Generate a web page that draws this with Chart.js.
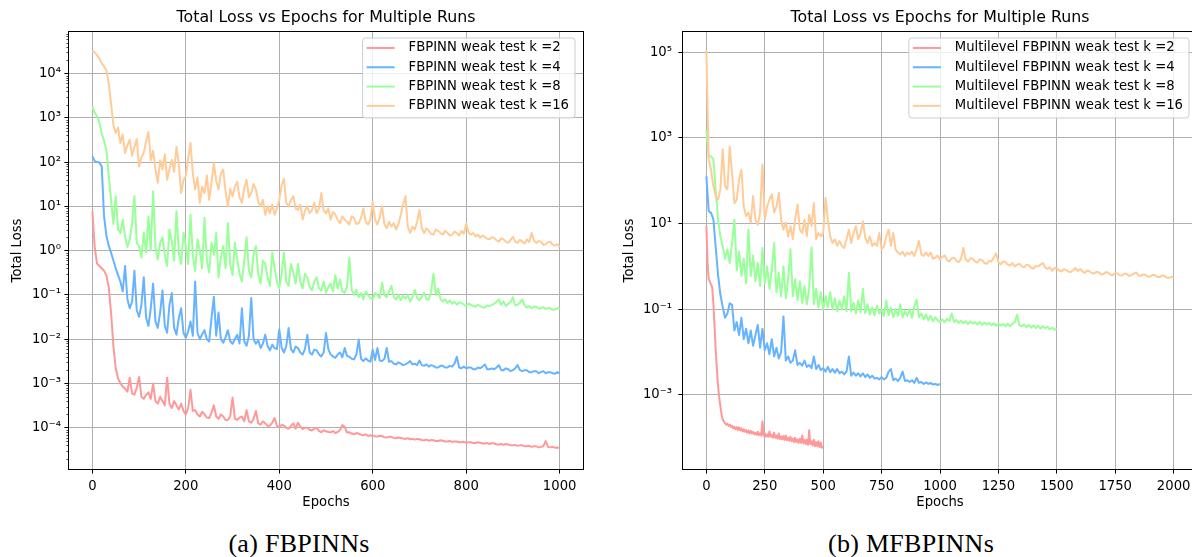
<!DOCTYPE html>
<html>
<head>
<meta charset="utf-8">
<script src="https://cdn.jsdelivr.net/npm/chart.js@4.4.0/dist/chart.umd.min.js"></script>
<style>
html,body{margin:0;padding:0;background:#fff;overflow:hidden;width:1192px;height:557px}
.wrap{position:absolute;top:0;width:600px;height:520px}
#wa{left:0}
#wb{left:600px}
.cap{position:absolute;top:529px;font-family:"Liberation Serif",serif;font-size:26px;color:#000;white-space:nowrap;transform:translateX(-50%);letter-spacing:0.3px}
</style>
</head>
<body>
<div class="wrap" id="wa"><canvas id="ca" width="600" height="520"></canvas></div>
<div class="wrap" id="wb"><canvas id="cb" width="600" height="520"></canvas></div>
<div class="cap" style="left:299px">(a) FBPINNs</div>
<div class="cap" style="left:911px">(b) MFBPINNs</div>
<script>
// k values and colours (same for both panels)
const kValues=[2,4,8,16];
const colors=['#ff9999','#66b3ff','#99ff99','#ffcc99'];

// (a) FBPINN runs, one value every 5 epochs, 0..1000
const stepA=5;
const lossA2=[7.8,1.2,0.51,0.45,0.4,0.35,0.28,0.15,0.04,0.007,0.0022,0.0013,0.001,8.5e-4,7.6e-4,6.5e-4,1.35e-3,6e-4,5.6e-4,8e-4,
 1.4e-3,5e-4,4.5e-4,5.5e-4,6.3e-4,4.5e-4,1.0e-3,4e-4,3.5e-4,5e-4,4.0e-4,3.2e-4,1.35e-3,3.5e-4,2.8e-4,4e-4,3.2e-4,2.6e-4,3.5e-4,2.4e-4,
 2.0e-4,2.8e-4,7.2e-4,2.4e-4,2.5e-4,2.0e-4,1.8e-4,2.3e-4,2.0e-4,1.7e-4,1.66e-4,2.2e-4,3.2e-4,1.8e-4,1.6e-4,2.0e-4,1.8e-4,1.5e-4,1.5e-4,1.8e-4,
 4.8e-4,1.6e-4,1.5e-4,1.7e-4,1.8e-4,1.4e-4,2.5e-4,1.4e-4,1.3e-4,1.6e-4,2.4e-4,1.25e-4,1.17e-4,1.4e-4,1.26e-4,1.1e-4,1.12e-4,1.3e-4,1.66e-4,1.1e-4,
 1.05e-4,1.15e-4,1.12e-4,1.0e-4,9.5e-5,1.1e-4,1.26e-4,9.5e-5,1.3e-4,1.05e-4,9.3e-5,1.0e-4,1.0e-4,9e-5,8.7e-5,9.5e-5,1.0e-4,8.5e-5,7.9e-5,8.8e-5,
 8.3e-5,8.0e-5,7.9e-5,8.4e-5,7.6e-5,8e-5,8.9e-5,1.15e-4,1.05e-4,7.8e-5,7.9e-5,7.4e-5,7.1e-5,7.6e-5,7.4e-5,6.9e-5,6.8e-5,7.1e-5,6.5e-5,6.8e-5,
 6.6e-5,6.4e-5,6.3e-5,6.6e-5,6.5e-5,6.1e-5,6.0e-5,6.3e-5,6.2e-5,5.9e-5,5.8e-5,6.0e-5,5.9e-5,5.7e-5,5.6e-5,5.8e-5,5.5e-5,5.6e-5,5.4e-5,5.6e-5,
 5.5e-5,5.3e-5,5.2e-5,5.4e-5,5.1e-5,5.3e-5,5.2e-5,5.0e-5,5.0e-5,5.2e-5,5.1e-5,4.9e-5,4.9e-5,5.0e-5,4.8e-5,4.9e-5,4.9e-5,4.7e-5,4.7e-5,4.8e-5,
 4.6e-5,4.7e-5,4.7e-5,4.5e-5,4.5e-5,4.7e-5,4.6e-5,4.4e-5,4.4e-5,4.5e-5,4.3e-5,4.5e-5,4.4e-5,4.2e-5,4.2e-5,4.3e-5,4.1e-5,4.3e-5,4.2e-5,4.0e-5,
 4.0e-5,4.1e-5,3.9e-5,4.0e-5,4.0e-5,3.8e-5,3.8e-5,3.9e-5,3.7e-5,3.8e-5,3.8e-5,3.6e-5,3.7e-5,3.8e-5,5.0e-5,3.7e-5,3.6e-5,3.7e-5,3.55e-5,3.6e-5,
 3.55e-5];
const lossA4=[135,105,100,98,80,6,2.2,1.3,0.9,0.6,0.4,0.28,0.2,0.12,0.45,0.08,0.05,0.07,0.35,0.045,
 0.032,0.06,0.25,0.03,0.02,0.05,0.18,0.025,0.018,0.04,0.126,0.02,0.014,0.06,0.11,0.018,0.0126,0.03,0.05,0.014,
 0.0107,0.015,0.025,0.012,0.2,0.014,0.01,0.013,0.016,0.01,0.0089,0.03,0.091,0.012,0.04,0.01,0.0083,0.011,0.016,0.009,
 0.0079,0.01,0.0126,0.008,0.05,0.009,0.0071,0.012,0.085,0.01,0.0079,0.0095,0.0063,0.008,0.0126,0.007,0.0056,0.0075,0.0063,0.006,
 0.0166,0.0065,0.005,0.007,0.0178,0.006,0.005,0.0068,0.0063,0.005,0.0045,0.006,0.0126,0.005,0.0045,0.0058,0.0056,0.0045,0.0041,0.005,
 0.0138,0.006,0.0045,0.0041,0.0038,0.0045,0.005,0.0039,0.0063,0.0042,0.004,0.0036,0.0035,0.0045,0.0098,0.0036,0.0032,0.0037,0.0033,0.0031,
 0.0058,0.0034,0.0063,0.0033,0.0032,0.0036,0.0063,0.0031,0.0032,0.0028,0.0027,0.003,0.0028,0.0026,0.0027,0.0029,0.0032,0.0027,0.0028,0.0026,
 0.0033,0.0026,0.0025,0.0027,0.0024,0.0026,0.0025,0.0023,0.0023,0.0025,0.0025,0.0023,0.0023,0.0025,0.0024,0.0028,0.004,0.0023,0.0022,0.0024,
 0.0022,0.0023,0.0023,0.0021,0.0021,0.0023,0.0022,0.0024,0.0027,0.0021,0.0021,0.0022,0.0021,0.0023,0.0026,0.002,0.002,0.0022,0.0021,0.0019,
 0.002,0.0022,0.0026,0.002,0.0019,0.002,0.002,0.0018,0.0018,0.0019,0.0019,0.0017,0.0018,0.0019,0.0017,0.0018,0.0018,0.0017,0.00166,0.0018,
 0.0017];
const lossA8=[1800,1300,1070,800,450,300,190,50,14,4,17,3,2.5,5,2.1,1.2,1.8,4,17,1.5,
 1.26,0.7,2.5,0.9,5.9,1.0,22,1.2,0.63,1.5,2.0,0.8,0.45,3,1.6,0.6,7.8,0.9,0.5,2.5,
 1.26,0.5,6.5,0.8,0.35,1.8,1.0,0.4,5.5,0.6,0.32,1.5,0.8,2.5,0.25,0.7,1.26,0.4,4.2,0.5,
 0.28,1.5,0.63,0.3,0.2,0.6,2.0,0.35,0.25,0.8,1.26,0.3,0.18,0.6,0.5,0.25,0.16,0.9,0.4,0.2,
 0.14,0.3,0.9,0.2,0.16,0.5,0.32,0.18,0.5,0.2,0.14,0.3,0.25,0.15,0.126,0.2,0.25,0.14,0.126,0.2,
 0.112,0.15,0.18,0.12,0.28,0.14,0.22,0.12,0.112,0.15,0.7,0.13,0.1,0.13,0.089,0.11,0.079,0.12,0.1,0.085,
 0.079,0.11,0.1,0.085,0.19,0.1,0.089,0.12,0.16,0.09,0.079,0.1,0.076,0.095,0.083,0.1,0.071,0.09,0.13,0.085,
 0.076,0.09,0.112,0.08,0.079,0.12,0.3,0.1,0.14,0.08,0.071,0.08,0.066,0.075,0.063,0.07,0.06,0.068,0.066,0.06,
 0.056,0.064,0.06,0.056,0.054,0.06,0.056,0.052,0.052,0.058,0.056,0.06,0.063,0.07,0.079,0.06,0.071,0.056,0.063,0.07,
 0.089,0.058,0.06,0.068,0.079,0.058,0.052,0.056,0.05,0.055,0.054,0.049,0.05,0.053,0.048,0.051,0.05,0.046,0.047,0.05,
 0.048];
const lossA16=[33000,30000,26000,22000,17000,14500,11700,6000,2100,700,450,600,270,420,160,240,320,140,220,330,
 80,130,160,300,480,110,180,70,34,110,68,150,40,70,112,60,220,90,20,40,
 48,120,270,55,24,45,12,28,20,50,14,35,95,38,24,55,68,22,10,25,
 17,28,36,16,12,26,40,16,20,32,24,13,10,14,6.5,10,7,11,6.5,9,
 14,30,42,12,10,14,17,9,8.3,11,5,8,10,7,8.3,12,7,9,20,8,
 7,9,5,7.5,6.5,5,4.2,6,5,4.5,3.9,6,5.5,4,4.2,5.5,9,4.5,3.9,5,
 12.6,5,3.9,5.5,10,4,3.2,4.5,3.5,4.2,3.0,4,6.5,11,17,3.5,2.5,3.5,3.0,4.5,
 8.3,3.2,2.5,3.2,2.8,2.4,2.3,3,2.8,2.5,2.3,2.8,2.5,2.2,2.3,2.7,2.5,2.2,2.8,2.4,
 4.1,2.6,2.3,2.5,2.1,2.3,1.95,2.2,2.05,1.85,1.8,2.0,1.95,1.7,1.6,1.9,1.8,1.6,1.5,1.75,
 2.05,1.6,1.5,1.75,1.6,1.45,1.8,1.55,2.5,1.7,1.5,1.65,1.6,1.35,1.4,1.55,1.6,1.35,1.3,1.4,
 1.2];

// (b) Multilevel FBPINN runs, each run sampled with its own epoch step
const stepB=[5,10,10,10];
const lossB2=[8.7,1.26,0.5,0.44,0.38,0.32,0.14,0.04,0.0112,0.004,
 0.0016,8.9e-4,5.4e-4,3.5e-4,2.7e-4,2.4e-4,2.2e-4,2.0e-4,2.1e-4,1.9e-4,
 2.0e-4,1.78e-4,1.9e-4,1.66e-4,1.8e-4,1.58e-4,1.78e-4,1.5e-4,1.74e-4,1.48e-4,
 1.66e-4,1.4e-4,1.58e-4,1.38e-4,1.5e-4,1.3e-4,1.48e-4,1.26e-4,1.45e-4,1.26e-4,
 1.38e-4,1.2e-4,1.3e-4,1.17e-4,1.38e-4,1.15e-4,1.26e-4,1.12e-4,2.4e-4,1.12e-4,
 1.26e-4,1.07e-4,1.2e-4,1.05e-4,1.4e-4,1.05e-4,1.17e-4,1.0e-4,1.3e-4,1.0e-4,
 1.12e-4,9.5e-5,1.26e-4,9.3e-5,1.07e-4,9.1e-5,1.1e-4,8.9e-5,1.12e-4,8.7e-5,
 1.0e-4,8.5e-5,1.05e-4,8.3e-5,9.5e-5,7.9e-5,1.0e-4,7.9e-5,9.1e-5,7.6e-5,
 9.5e-5,7.6e-5,1.12e-4,7.4e-5,8.9e-5,7.1e-5,8.9e-5,6.8e-5,1.5e-4,7.1e-5,
 8.3e-5,6.6e-5,8.9e-5,6.3e-5,7.9e-5,6.3e-5,8.3e-5,6.0e-5,7.6e-5,5.8e-5,
 6.3e-5];
const lossB4=[126,19.5,17.8,12.6,2.8,0.63,0.22,0.112,0.063,0.079,
 0.138,0.126,0.032,0.05,0.025,0.063,0.02,0.035,0.016,0.032,
 0.014,0.025,0.043,0.0126,0.035,0.011,0.016,0.0089,0.02,0.0079,
 0.0126,0.0071,0.01,0.068,0.0063,0.0079,0.0056,0.0063,0.011,0.005,
 0.0056,0.0048,0.0063,0.0045,0.005,0.0042,0.0079,0.004,0.005,0.0038,
 0.0042,0.0035,0.0045,0.0034,0.004,0.0033,0.004,0.0032,0.0035,0.003,
 0.0035,0.0079,0.0028,0.0033,0.0028,0.0032,0.0027,0.0032,0.0026,0.003,
 0.0025,0.0028,0.0024,0.0025,0.0023,0.0026,0.0023,0.0025,0.0035,0.004,
 0.0022,0.0024,0.0021,0.0025,0.0035,0.0021,0.0022,0.002,0.0022,0.0019,
 0.0025,0.0019,0.002,0.0018,0.00195,0.0018,0.0019,0.00174,0.0018,0.0017,
 0.0018];
const lossB8=[1550,370,370,320,60,12.3,5,3,1.5,2.5,1.2,3.5,12.3,0.8,2.2,0.6,1.5,0.4,7.2,0.6,
 1.8,0.45,1.2,0.35,2.7,0.4,1.0,0.3,0.8,3.5,0.25,0.7,0.2,1.0,0.18,0.5,2.5,0.2,0.5,0.16,
 0.45,0.14,0.35,0.13,0.3,2.8,0.13,0.3,0.11,0.25,0.1,0.2,0.11,0.25,0.1,0.18,0.09,0.16,0.1,0.2,
 0.09,0.7,0.09,0.14,0.08,0.16,0.085,0.3,0.08,0.13,0.075,0.11,0.072,0.12,0.08,0.1,0.07,0.16,0.072,0.11,
 0.065,0.1,0.07,0.13,0.065,0.09,0.07,0.1,0.063,0.12,0.166,0.065,0.08,0.058,0.075,0.055,0.07,0.052,0.065,0.055,
 0.05,0.058,0.05,0.06,0.053,0.079,0.05,0.056,0.048,0.054,0.047,0.053,0.045,0.052,0.046,0.05,0.044,0.051,0.043,0.049,
 0.044,0.048,0.042,0.047,0.041,0.046,0.042,0.045,0.04,0.046,0.04,0.045,0.05,0.074,0.042,0.04,0.044,0.038,0.043,0.037,
 0.042,0.036,0.041,0.035,0.04,0.036,0.039,0.034,0.037,0.033,
 0.035];
const lossB16=[110000,320,180,75,44,36,63,540,74,63,630,150,30,36,107,180,25,15,18,10.5,
 44,12.3,9.3,18,240,12.3,25,36,48,18,25,52,12.3,7.2,10.5,5,8.7,4.3,12.3,28,
 7.2,6,12.3,5,16,8.7,30,4.3,6,5,6,40,12.3,5,3.5,4.3,3,3.9,3,2.7,
 4.3,7.2,3.5,6,8.7,4.3,6,11.2,4.7,3.5,5,3,3.5,3,6,2.5,3,5,7.2,3,
 6,2.5,2.1,1.9,2.2,1.75,2.1,1.9,2.2,1.75,2.5,3.9,1.9,1.75,2.1,1.75,2.1,1.5,1.6,1.8,
 1.45,1.65,1.8,1.4,1.3,1.55,1.6,1.35,1.26,1.5,2.7,1.45,1.3,1.55,1.5,1.3,1.23,1.45,1.4,1.2,
 1.15,1.35,1.3,1.6,2.0,1.25,1.12,1.3,1.26,1.1,1.05,1.2,1.0,1.1,1.15,1.0,0.95,1.1,1.07,0.93,
 0.89,1.02,1.0,1.1,1.2,0.95,0.87,0.95,0.79,0.92,0.89,0.8,0.76,0.86,0.83,0.75,0.74,0.82,0.91,0.78,
 0.87,0.76,0.71,0.8,0.76,0.7,0.68,0.75,0.72,0.65,0.66,0.74,0.71,0.64,0.63,0.7,0.68,0.61,0.62,0.68,
 0.66,0.6,0.63,0.68,0.72,0.62,0.6,0.65,0.63,0.57,0.58,0.64,0.62,0.57,0.56,0.61,0.6,0.55,0.54,0.57,
 0.55];

const ticksAx=[0,200,400,600,800,1000];
const ticksBx=[0,250,500,750,1000,1250,1500,1750,2000];
const ticksAy=[1e-4,1e-3,1e-2,1e-1,1,1e1,1e2,1e3,1e4];
const ticksBy=[1e-3,1e-1,1e1,1e3,1e5];

const FONT='"DejaVu Sans", sans-serif';
const FS=13.2;
Chart.defaults.font.family=FONT;
Chart.defaults.color='#000';

const SUP={'-':'\u207b','0':'\u2070','1':'\u00b9','2':'\u00b2','3':'\u00b3','4':'\u2074','5':'\u2075','6':'\u2076','7':'\u2077','8':'\u2078','9':'\u2079'};
const sci=v=>'10'+String(Math.round(Math.log10(v))).split('').map(c=>SUP[c]).join('');

// spines, minor y ticks and a matplotlib-like legend box
const mplBox={
  id:'mplBox',
  afterDraw(c,args,o){
    const ctx=c.ctx, ca=c.chartArea;
    ctx.save();
    if(o.minor){
      const ys=c.scales.y;
      ctx.strokeStyle='#000';ctx.lineWidth=0.7;ctx.beginPath();
      for(let e=-6;e<=6;e++)for(let k=2;k<10;k++){
        const p=ys.getPixelForValue(k*Math.pow(10,e));
        if(p>ca.top&&p<ca.bottom){const yy=Math.round(p)+0.5;ctx.moveTo(ca.left-2.6,yy);ctx.lineTo(ca.left,yy);}
      }
      ctx.stroke();
    }
    ctx.strokeStyle='#000';ctx.lineWidth=1;
    ctx.strokeRect(Math.round(ca.left)-0.5,Math.round(ca.top)-0.5,Math.round(ca.right-ca.left)+1,Math.round(ca.bottom-ca.top)+1);
    ctx.font=FS+'px '+FONT;
    const ds=c.data.datasets;
    const tw=Math.max(...ds.map(d=>ctx.measureText(d.label).width));
    const w=tw+46+6,h=80,x0=ca.right-8-w,y0=ca.top+6,r=3;
    ctx.beginPath();
    ctx.moveTo(x0+r,y0);ctx.arcTo(x0+w,y0,x0+w,y0+h,r);ctx.arcTo(x0+w,y0+h,x0,y0+h,r);
    ctx.arcTo(x0,y0+h,x0,y0,r);ctx.arcTo(x0,y0,x0+w,y0,r);ctx.closePath();
    ctx.fillStyle='rgba(255,255,255,0.8)';ctx.fill();
    ctx.strokeStyle='#cccccc';ctx.lineWidth=1;ctx.stroke();
    ctx.textBaseline='middle';ctx.textAlign='left';
    ds.forEach((d,i)=>{
      const yy=y0+10+i*19.3;
      ctx.strokeStyle=d.borderColor;ctx.lineWidth=2;
      ctx.beginPath();ctx.moveTo(x0+4,yy);ctx.lineTo(x0+32,yy);ctx.stroke();
      ctx.fillStyle='#000';ctx.fillText(d.label,x0+46,yy);
    });
    ctx.restore();
  }
};

function lossChart(id,series,steps,name,xr,xt,yr,yt,yW,yTitlePad,yTickPad,padR,minor){
  const grid={color:'#b0b0b0',lineWidth:1,tickColor:'#000',tickLength:4.6};
  return new Chart(document.getElementById(id),{
    type:'line',
    data:{datasets:series.map((s,i)=>({
      label:name+' k ='+kValues[i],
      data:s.map((v,j)=>({x:j*steps[i],y:v})),
      borderColor:colors[i],backgroundColor:colors[i],borderWidth:2,
      pointRadius:0,tension:0,borderJoinStyle:'round',order:3-i
    }))},
    options:{
      responsive:false,animation:false,
      layout:{padding:{left:0,right:padR,top:0,bottom:6}},
      plugins:{
        legend:{display:false},tooltip:{enabled:false},
        title:{display:true,text:'Total Loss vs Epochs for Multiple Runs',fullSize:false,color:'#000',
               font:{size:15.8,weight:'normal'},padding:{top:8.5,bottom:4.5}},
        mplBox:{minor:minor}
      },
      scales:{
        x:{type:'linear',min:xr[0],max:xr[1],
           afterBuildTicks:s=>{s.ticks=xt.map(v=>({value:v}));},
           afterFit:s=>{s.height=45;},
           grid:grid,border:{display:false},
           ticks:{font:{size:FS},padding:5,maxRotation:0,autoSkip:false,callback:v=>String(v)},
           title:{display:true,text:'Epochs',font:{size:FS},padding:{top:2,bottom:3.5}}},
        y:{type:'logarithmic',min:yr[0],max:yr[1],
           afterBuildTicks:s=>{s.ticks=yt.map(v=>({value:v}));},
           afterFit:s=>{s.width=yW;},
           grid:grid,border:{display:false},
           ticks:{font:{size:FS},padding:yTickPad,autoSkip:false,callback:v=>sci(v)},
           title:{display:true,text:'Total Loss',font:{size:FS},padding:{top:yTitlePad,bottom:0}}}
      }
    },
    plugins:[mplBox]
  });
}

lossChart('ca',[lossA2,lossA4,lossA8,lossA16],[stepA,stepA,stepA,stepA],'FBPINN weak test',
  [-50,1050],ticksAx,[1.17e-5,8.7e4],ticksAy,69,9.6,3.4,17,true);
lossChart('cb',[lossB2,lossB4,lossB8,lossB16],stepB,'Multilevel FBPINN weak test',
  [-100,2100],ticksBx,[1.86e-5,2.97e5],ticksBy,83,22.1,6.4,3,false);
</script>
</body>
</html>
